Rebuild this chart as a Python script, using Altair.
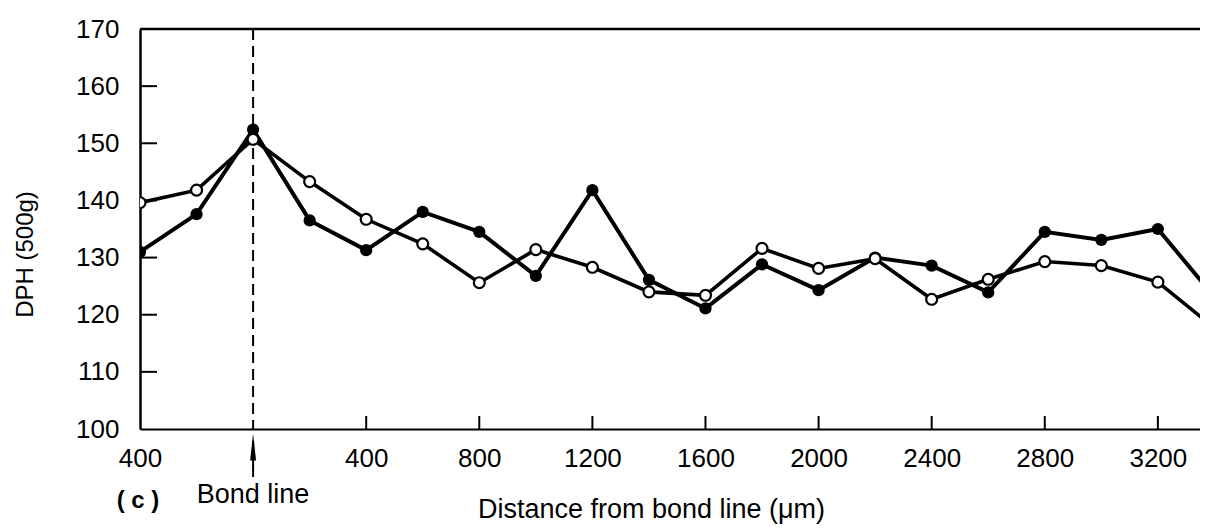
import altair as alt
import pandas as pd

# ---- data ----
distance = [-400, -200, 0, 200, 400, 600, 800, 1000, 1200, 1400, 1600, 1800,
            2000, 2200, 2400, 2600, 2800, 3000, 3200, 3400]
filled_dph = [131.0, 137.6, 152.4, 136.5, 131.3, 138.0, 134.5, 126.8, 141.8, 126.1,
              121.1, 128.8, 124.3, 130.0, 128.6, 123.9, 134.5, 133.1, 135.0, 123.1]
open_dph = [139.6, 141.8, 150.7, 143.3, 136.7, 132.4, 125.6, 131.4, 128.3, 124.0,
            123.4, 131.6, 128.1, 129.8, 122.7, 126.2, 129.3, 128.6, 125.7, 117.7]

x_tick_values = [400, 800, 1200, 1600, 2000, 2400, 2800, 3200]
x_label_values = [-400] + x_tick_values
y_tick_values = [110, 120, 130, 140, 150, 160]
y_label_values = [100, 110, 120, 130, 140, 150, 160, 170]

x_title = "Distance from bond line (\u03bcm)"
y_title = "DPH (500g)"
bond_label = "Bond line"
panel_label = "( c )"

FONT = "Liberation Sans"
W, H = 1060, 400

filled_df = pd.DataFrame({"distance": distance, "dph": filled_dph})
open_df = pd.DataFrame({"distance": distance, "dph": open_dph})

xs = alt.Scale(domain=[-400, 3349], nice=False, zero=False)
ys = alt.Scale(domain=[100, 170], nice=False, zero=False)

x_axis = alt.Axis(
    values=x_label_values, labelExpr="'' + abs(datum.value)", ticks=False, grid=False,
    domainColor="black", domainWidth=2, labelColor="black", labelFont=FONT,
    labelFontSize=26, labelPadding=16, labelFlush=False, labelOverlap=False,
    title=x_title, titleFont=FONT, titleFontSize=27, titleFontWeight="normal",
    titleColor="black", titleX=511, titleY=80, titleAlign="center", titleBaseline="middle",
)
y_axis = alt.Axis(
    values=y_label_values, ticks=False, grid=False, domainColor="black", domainWidth=2.5,
    labelColor="black", labelFont=FONT, labelFontSize=26, labelPadding=21,
    labelFlush=False, labelOverlap=False,
    title=y_title, titleFont=FONT, titleFontSize=24, titleFontWeight="normal",
    titleColor="black", titleAngle=270, titleX=-115, titleY=225,
    titleAlign="center", titleBaseline="middle",
)

X = alt.X("distance:Q", scale=xs, axis=x_axis)
Y = alt.Y("dph:Q", scale=ys, axis=y_axis)

filled_line = alt.Chart(filled_df).mark_line(color="black", strokeWidth=4, clip=True).encode(x=X, y=Y)
open_line = alt.Chart(open_df).mark_line(color="black", strokeWidth=3.6, clip=True).encode(x=X, y=Y)
filled_pts = alt.Chart(filled_df).mark_point(
    shape="circle", filled=True, color="black", size=150, opacity=1, clip=True
).encode(x=X, y=Y)
open_pts = alt.Chart(open_df).mark_point(
    shape="circle", filled=True, fill="white", stroke="black", strokeWidth=2.2,
    size=120, opacity=1, clip=True
).encode(x=X, y=Y)

y_ticks = alt.Chart(pd.DataFrame({"dph": y_tick_values})).mark_rule(
    color="black", strokeWidth=2
).encode(y=Y, x=alt.value(0), x2=alt.value(17))
x_ticks = alt.Chart(pd.DataFrame({"distance": x_tick_values})).mark_rule(
    color="black", strokeWidth=2
).encode(x=X, y=alt.value(H), y2=alt.value(H - 13))
top_border = alt.Chart(pd.DataFrame({"dph": [170]})).mark_rule(
    color="black", strokeWidth=2.5
).encode(y=Y, x=alt.value(0), x2=alt.value(W))

bond_df = pd.DataFrame({"distance": [0], "label": [bond_label]})
bond_line = alt.Chart(bond_df).mark_rule(
    color="black", strokeWidth=2, strokeDash=[11, 6]
).encode(x=X, y=alt.value(0), y2=alt.value(H))
arrow_shaft = alt.Chart(bond_df).mark_rule(color="black", strokeWidth=2).encode(
    x=X, y=alt.value(H + 12), y2=alt.value(H + 48)
)
arrow_head = alt.Chart(bond_df).mark_point(
    shape="M0,-1L0.22,1L-0.22,1Z", filled=True, color="black", size=729, opacity=1
).encode(x=X, y=alt.value(H + 18))
bond_text = alt.Chart(bond_df).mark_text(
    font=FONT, fontSize=27, color="black", align="center", baseline="middle"
).encode(x=X, y=alt.value(H + 66), text="label:N")
panel_text = alt.Chart(pd.DataFrame({"distance": [-400], "label": [panel_label]})).mark_text(
    font=FONT, fontSize=24, fontWeight="bold", color="black", align="center",
    baseline="middle", dx=-2
).encode(x=X, y=alt.value(H + 72), text="label:N")

chart = alt.layer(
    filled_line, open_line, top_border, y_ticks, x_ticks, bond_line,
    arrow_shaft, arrow_head, bond_text, panel_text, filled_pts, open_pts,
).properties(
    width=W, height=H,
    autosize=alt.AutoSizeParams(type="none"),
    padding={"left": 132, "top": 21, "right": 0, "bottom": 95},
    background="white",
).configure_view(stroke=None)

chart.save("out.html", embed_options={"renderer": "svg", "actions": False})
